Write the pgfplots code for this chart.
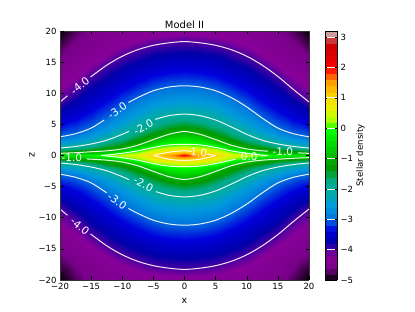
\documentclass[border=0pt]{standalone}
\usepackage{fontspec}
\setmainfont{DejaVu Sans}
\usepackage{pgfplots}
\usepackage{pgfplotstable}
\pgfplotsset{compat=1.18}
\pgfplotstableread{
x z v
0 0 2.0
2.5 0 1.45
5 0 1.0
7.5 0 .65
10 0 .4
12.5 0 .1
15 0 -.15
17.5 0 -.3
20 0 -.4
0 .8 1
2.5 .6 1
5 .5 .7
7.5 .35 .3
10 .2 .15
12.5 .07 0
15 .15 -.35
17.5 .12 -.5
20 .1 -.55
0 1.8 0
2.5 1.7 0
5 1.3 0
7.5 .75 0
10 .35 0
12.5 .25 -.25
15 .28 -.55
17.5 .22 -.65
20 .2 -.75
0 2.8 -.5
2.5 2.55 -.5
5 1.9 -.5
7.5 1.15 -.5
10 .65 -.5
12.5 .45 -.55
15 .42 -.8
17.5 .33 -.85
20 .27 -.88
0 3.85 -1
2.5 3.4 -1
5 2.55 -1
7.5 1.65 -1
10 1.05 -1
12.5 .75 -1
15 .6 -1
17.5 .45 -1
20 .35 -1
0 5.1 -1.5
2.5 4.8 -1.5
5 4.0 -1.5
7.5 2.95 -1.5
10 2.05 -1.5
12.5 1.45 -1.5
15 1.1 -1.5
17.5 .85 -1.5
20 .7 -1.5
0 6.65 -2
2.5 6.4 -2
5 5.7 -2
7.5 4.6 -2
10 3.4 -2
12.5 2.45 -2
15 1.85 -2
17.5 1.45 -2
20 1.2 -2
0 8.8 -2.5
2.5 8.5 -2.5
5 7.9 -2.5
7.5 6.7 -2.5
10 5.3 -2.5
12.5 4.0 -2.5
15 3.0 -2.5
17.5 2.4 -2.5
20 2.0 -2.5
0 11.2 -3
2.5 11 -3
5 10.4 -3
7.5 9.3 -3
10 7.8 -3
12.5 6 -3
15 4.4 -3
17.5 3.5 -3
20 3 -3
0 14.6 -3.5
2.5 14.4 -3.5
5 13.9 -3.5
7.5 13 -3.5
10 11.7 -3.5
12.5 10.1 -3.5
15 8.2 -3.5
17.5 6.7 -3.5
20 5.6 -3.5
0 18.3 -4
2.5 18.1 -4
5 17.7 -4
7.5 17 -4
10 15.95 -4
12.5 14.5 -4
15 12.7 -4
17.5 10.6 -4
20 8.6 -4
0 19.15 -4.13
2.5 19.05 -4.14
5 18.85 -4.15
7.5 18.5 -4.18
10 18 -4.22
12.5 17.25 -4.28
15 16.35 -4.35
17.5 15.3 -4.4
20 14.3 -4.45
0 20 -4.25
2.5 20 -4.26
5 20 -4.28
7.5 20 -4.31
10 20 -4.35
12.5 20 -4.42
15 20 -4.52
17.5 20 -4.72
20 20 -5
}\field
\newcommand{\lab}[4]{\node[white,rotate=#4,inner sep=0pt,font=\fontsize{10.5}{11}\selectfont] at (axis cs:#1,#2,5) {#3};}
\pgfplotsset{cline/.style={white,opacity=.9,no marks,line width=1pt,smooth,forget plot}}
\begin{document}
\begin{tikzpicture}
\path[use as bounding box] (0,0) rectangle (415pt,312pt);
\begin{axis}[
  at={(60pt,32pt)},anchor=south west,scale only axis,width=249pt,height=249pt,
  view={0}{90},
  xmin=-20,xmax=20,ymin=-20,ymax=20,
  xtick={-20,-15,-10,-5,0,5,10,15,20},
  xticklabels={−20,−15,−10,−5,0,5,10,15,20},
  ytick={-20,-15,-10,-5,0,5,10,15,20},
  yticklabels={−20,−15,−10,−5,0,5,10,15,20},
  tick align=inside,tick pos=both,major tick length=3.5pt,
  tick style={black,line width=.5pt},
  axis line style={line width=.7pt,black!80},
  axis on top,
  ticklabel style={font=\fontsize{8.5}{9}\selectfont},
  xlabel={x},ylabel={z},
  xlabel style={font=\fontsize{9.5}{10}\selectfont,yshift=-1.5pt},
  ylabel style={font=\fontsize{9.5}{10}\selectfont,yshift=-3pt},
  title={Model II},
  title style={font=\fontsize{10}{11}\selectfont,yshift=-7pt},
  colormap={nipy}{rgb=(0,0,0) rgb=(.4667,0,.5333) rgb=(.5333,0,.6) rgb=(0,0,.6667) rgb=(0,0,.8667)
    rgb=(0,.4667,.8667) rgb=(0,.6,.8667) rgb=(0,.6667,.6667) rgb=(0,.6667,.5333) rgb=(0,.6,0)
    rgb=(0,.7333,0) rgb=(0,.8667,0) rgb=(0,1,0) rgb=(.7333,1,0) rgb=(.9333,.9333,0)
    rgb=(1,.8,0) rgb=(1,.6,0) rgb=(1,0,0) rgb=(.8667,0,0) rgb=(.8,0,0) rgb=(.8,.8,.8)},
  point meta min=-5,point meta max=3.2,
  colorbar sampled,
  colorbar style={samples=42,width=12pt,at={(1.0643,1)},anchor=north west,
    ytick={-5,-4,-3,-2,-1,0,1,2,3},
    yticklabels={−5,−4,−3,−2,−1,0,1,2,3},
    ymajorgrids=true,major grid style={white,line width=.6pt},
    axis on top,
    tick align=inside,major tick length=2pt,
    ylabel={Stellar density},
    ylabel style={font=\fontsize{8.6}{9}\selectfont,yshift=3.5pt},
  },
]
\addplot3[surf,shader=interp,mesh/rows=13,mesh/cols=9,mesh/ordering=x varies] table[x=x,y=z,z=v] {\field};
\addplot3[surf,shader=interp,mesh/rows=13,mesh/cols=9,mesh/ordering=x varies] table[x expr=-\thisrow{x},y=z,z=v] {\field};
\addplot3[surf,shader=interp,mesh/rows=13,mesh/cols=9,mesh/ordering=x varies] table[x=x,y expr=-\thisrow{z},z=v] {\field};
\addplot3[surf,shader=interp,mesh/rows=13,mesh/cols=9,mesh/ordering=x varies] table[x expr=-\thisrow{x},y expr=-\thisrow{z},z=v] {\field};
% level -4
\addplot3[cline] coordinates {(-20,8.6,5)(-18.8,9.6,5)};
\addplot3[cline] coordinates {(-15.1,12.6,5)(-12.5,14.5,5)(-10,15.95,5)(-7.5,17,5)(-5,17.7,5)(-2.5,18.1,5)(0,18.3,5)(2.5,18.1,5)(5,17.7,5)(7.5,17,5)(10,15.95,5)(12.5,14.5,5)(15,12.7,5)(17.5,10.6,5)(20,8.6,5)};
\addplot3[cline] coordinates {(-20,-8.6,5)(-18.8,-9.6,5)};
\addplot3[cline] coordinates {(-15.1,-12.6,5)(-12.5,-14.5,5)(-10,-15.95,5)(-7.5,-17,5)(-5,-17.7,5)(-2.5,-18.1,5)(0,-18.3,5)(2.5,-18.1,5)(5,-17.7,5)(7.5,-17,5)(10,-15.95,5)(12.5,-14.5,5)(15,-12.7,5)(17.5,-10.6,5)(20,-8.6,5)};
% level -3
\addplot3[cline] coordinates {(-20,3,5)(-17.5,3.5,5)(-15,4.4,5)(-12.9,5.7,5)};
\addplot3[cline] coordinates {(-9,8.5,5)(-7.5,9.3,5)(-5,10.4,5)(-2.5,11,5)(0,11.2,5)(2.5,11,5)(5,10.4,5)(7.5,9.3,5)(10,7.8,5)(12.5,6,5)(15,4.4,5)(17.5,3.5,5)(20,3,5)};
\addplot3[cline] coordinates {(-20,-3,5)(-17.5,-3.5,5)(-15,-4.4,5)(-12.5,-6,5)};
\addplot3[cline] coordinates {(-9,-8.5,5)(-7.5,-9.3,5)(-5,-10.4,5)(-2.5,-11,5)(0,-11.2,5)(2.5,-11,5)(5,-10.4,5)(7.5,-9.3,5)(10,-7.8,5)(12.5,-6,5)(15,-4.4,5)(17.5,-3.5,5)(20,-3,5)};
% level -2
\addplot3[cline] coordinates {(-20,1.2,5)(-17.5,1.45,5)(-15,1.85,5)(-12.5,2.45,5)(-10,3.4,5)(-8.9,3.9,5)};
\addplot3[cline] coordinates {(-4.7,5.8,5)(-2.5,6.4,5)(0,6.65,5)(2.5,6.4,5)(5,5.7,5)(7.5,4.6,5)(10,3.4,5)(12.5,2.45,5)(15,1.85,5)(17.5,1.45,5)(20,1.2,5)};
\addplot3[cline] coordinates {(-20,-1.2,5)(-17.5,-1.45,5)(-15,-1.85,5)(-12.5,-2.45,5)(-10,-3.4,5)(-8.9,-3.9,5)};
\addplot3[cline] coordinates {(-4.6,-5.8,5)(-2.5,-6.4,5)(0,-6.65,5)(2.5,-6.4,5)(5,-5.7,5)(7.5,-4.6,5)(10,-3.4,5)(12.5,-2.45,5)(15,-1.85,5)(17.5,-1.45,5)(20,-1.2,5)};
% level -1
\addplot3[cline] coordinates {(-20,.35,5)(-17.5,.45,5)(-15,.6,5)(-12.5,.75,5)(-10,1.05,5)(-7.5,1.65,5)(-5,2.55,5)(-2.5,3.4,5)(0,3.85,5)(2.5,3.4,5)(5,2.55,5)(7.5,1.65,5)(10,1.05,5)(12.5,.75,5)(13.4,.7,5)};
\addplot3[cline] coordinates {(18.2,.42,5)(20,.35,5)};
\addplot3[cline] coordinates {(-15.7,-.55,5)(-12.5,-.75,5)(-10,-1.05,5)(-7.5,-1.65,5)(-5,-2.55,5)(-2.5,-3.4,5)(0,-3.85,5)(2.5,-3.4,5)(5,-2.55,5)(7.5,-1.65,5)(10,-1.05,5)(12.5,-.75,5)(15,-.6,5)(17.5,-.45,5)(20,-.35,5)};
% level 0
\addplot3[cline] coordinates {(-13.3,0,5)(-12.5,.07,5)(-10,.35,5)(-7.5,.75,5)(-5,1.3,5)(-2.5,1.7,5)(0,1.8,5)(2.5,1.7,5)(5,1.3,5)(7.5,.75,5)(10,.35,5)(12.5,.07,5)(13.3,0,5)};
\addplot3[cline] coordinates {(-13.3,0,5)(-12.5,-.07,5)(-10,-.35,5)(-7.5,-.75,5)(-5,-1.3,5)(-2.5,-1.7,5)(0,-1.8,5)(2.5,-1.7,5)(5,-1.3,5)(7.5,-.75,5)(8.2,-.6,5)};
\addplot3[cline] coordinates {(12.4,-.08,5)(13.3,0,5)};
% level 1
\addplot3[cline] coordinates {(-5,0,5)(-3.5,.35,5)(-2,.6,5)(0,.75,5)(1.15,.65,5)};
\addplot3[cline] coordinates {(3.6,.25,5)(5,0,5)};
\addplot3[cline] coordinates {(-5,0,5)(-2.5,-.6,5)(0,-.8,5)(2.5,-.6,5)(5,0,5)};
\lab{-16.8}{11.2}{-4.0}{39}
\lab{-10.8}{7.2}{-3.0}{36}
\lab{-6.6}{4.6}{-2.0}{28}
\lab{-18.1}{-.4}{-1.0}{0}
\lab{-16.8}{-11.4}{-4.0}{-39}
\lab{-10.8}{-7.3}{-3.0}{-36}
\lab{-6.6}{-4.6}{-2.0}{-28}
\lab{2.3}{.5}{1.0}{-5}
\lab{10.4}{-.2}{0.0}{0}
\lab{15.8}{.55}{-1.0}{0}
\end{axis}
\end{tikzpicture}
\end{document}
